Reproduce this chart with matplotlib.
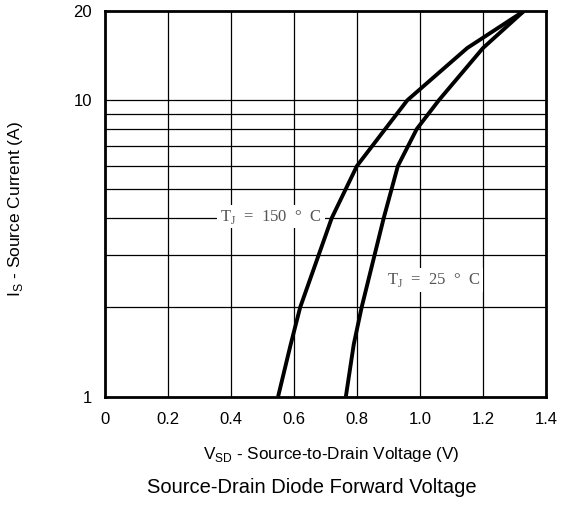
import matplotlib
matplotlib.use('Agg')
import matplotlib.pyplot as plt
from matplotlib.ticker import FixedLocator, NullLocator, FixedFormatter

plt.rcParams['font.family'] = ['Liberation Sans', 'DejaVu Sans']

# ── Data ────────────────────────────────────────────────────────────────
current = [1, 1.5, 2, 4, 6, 8, 10, 15, 20]
vsd_150 = [0.55, 0.59, 0.62, 0.72, 0.80, 0.89, 0.96, 1.15, 1.33]
vsd_25 = [0.765, 0.79, 0.815, 0.885, 0.93, 0.99, 1.06, 1.20, 1.33]

x_ticks = [0, 0.2, 0.4, 0.6, 0.8, 1.0, 1.2, 1.4]
x_tick_labels = ['0', '0.2', '0.4', '0.6', '0.8', '1.0', '1.2', '1.4']
y_ticks = [1, 10, 20]
y_tick_labels = ['1', '10', '20']
y_grid = [2, 3, 4, 5, 6, 7, 8, 9, 10]

fig = plt.figure(figsize=(5.65, 5.08), dpi=100)
ax = fig.add_axes([0.1853, 0.2191, 0.7811, 0.7592])

ax.set_yscale('log')
ax.set_xlim(0, 1.4)
ax.set_ylim(1, 20)

# grid
for v in x_ticks[1:-1]:
    ax.axvline(v, color='black', lw=0.9, zorder=1)
for i in y_grid:
    ax.axhline(i, color='black', lw=0.9, zorder=1)

ax.plot(vsd_150, current, color='black', lw=2.8, zorder=3, solid_capstyle='butt')
ax.plot(vsd_25, current, color='black', lw=2.8, zorder=3, solid_capstyle='butt')

label_kw = dict(family=['Liberation Serif', 'DejaVu Serif'], fontsize=12, color='#555555',
                va='center', ha='left', zorder=2,
                bbox=dict(facecolor='white', edgecolor='none', pad=2))
ax.text(0.366, 4.05, r'T$_\mathregular{J}$  =  150  °  C', **label_kw)
ax.text(0.895, 2.48, r'T$_\mathregular{J}$  =  25  °  C', **label_kw)

ax.xaxis.set_major_locator(FixedLocator(x_ticks))
ax.xaxis.set_major_formatter(FixedFormatter(x_tick_labels))
ax.yaxis.set_major_locator(FixedLocator(y_ticks))
ax.yaxis.set_major_formatter(FixedFormatter(y_tick_labels))
ax.yaxis.set_minor_locator(NullLocator())
ax.tick_params(length=0, labelsize=12)
ax.tick_params(axis='x', pad=11)
ax.tick_params(axis='y', pad=9)

for s in ax.spines.values():
    s.set_linewidth(2)
    s.set_zorder(4)

ax.set_ylabel(r'I$_\mathregular{S}$ - Source Current (A)', fontsize=12.5, va='center')
ax.yaxis.set_label_coords(-0.201, 0.487)
ax.set_xlabel(r'V$_\mathregular{SD}$ - Source-to-Drain Voltage (V)', fontsize=12.3, va='center')
ax.xaxis.set_label_coords(0.513, -0.150)
fig.text(0.552, 0.041, 'Source-Drain Diode Forward Voltage', fontsize=14.5, ha='center', va='center')

plt.savefig('out.png', dpi=100)
